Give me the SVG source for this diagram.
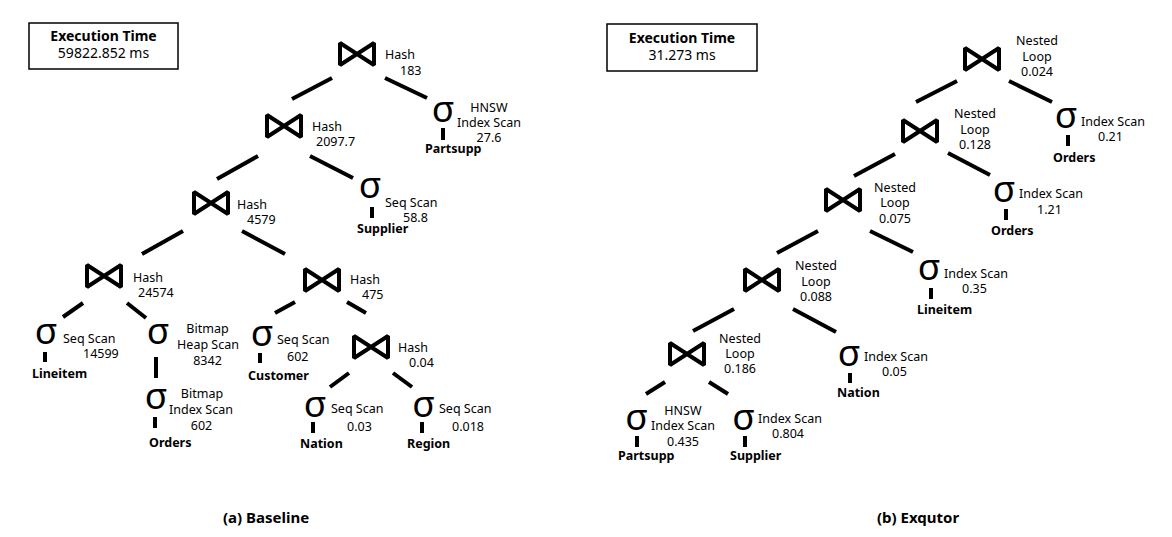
<svg xmlns="http://www.w3.org/2000/svg" xmlns:xlink="http://www.w3.org/1999/xlink" width="1172" height="537" viewBox="0 0 1172 537">
<style>
text{font-family:"Noto Sans","Open Sans","Liberation Sans",sans-serif;fill:#000}
.lbl{font-size:12.5px}
.mid{text-anchor:middle}
.name{font-size:12.5px;font-weight:bold}
.sig{font-size:37px;text-anchor:middle}
.ttl{font-size:14px;font-weight:bold;text-anchor:middle}
.val{font-size:14px;text-anchor:middle}
.cap{font-size:15px;font-weight:bold}
.edge{stroke:#000;stroke-width:4;fill:none}
.bar{fill:#000}
.bt{fill:none;stroke:#000;stroke-width:4;stroke-linejoin:miter;stroke-miterlimit:2}
.box{fill:#fff;stroke:#000;stroke-width:1.5}
</style>
<defs>
<path id="bowtie" d="M2,2 L36,24 L36,2 L2,24 Z" class="bt"/>
</defs>
<rect width="1172" height="537" fill="#fff"/>

<!-- connectors -->
<g id="connectors">
<line class="edge" x1="292" y1="99" x2="332" y2="78"/>
<line class="edge" x1="385" y1="78" x2="427" y2="98"/>
<line class="edge" x1="217" y1="179" x2="258" y2="156"/>
<line class="edge" x1="310" y1="156" x2="353" y2="178"/>
<line class="edge" x1="142" y1="254" x2="183" y2="231"/>
<line class="edge" x1="242" y1="231" x2="285" y2="254"/>
<line class="edge" x1="63" y1="317" x2="83" y2="303"/>
<line class="edge" x1="127" y1="303" x2="146" y2="318"/>
<line class="edge" x1="156" y1="357" x2="156" y2="378"/>
<line class="edge" x1="275" y1="313" x2="295" y2="302"/>
<line class="edge" x1="347" y1="302" x2="366" y2="313"/>
<line class="edge" x1="330" y1="387" x2="349" y2="373"/>
<line class="edge" x1="393" y1="373" x2="412" y2="387"/>

<line class="edge" x1="916" y1="102" x2="957" y2="81"/>
<line class="edge" x1="1009" y1="81" x2="1052" y2="102"/>
<line class="edge" x1="854" y1="176" x2="895" y2="154"/>
<line class="edge" x1="948" y1="153" x2="990" y2="175"/>
<line class="edge" x1="777" y1="253" x2="818" y2="231"/>
<line class="edge" x1="870" y1="231" x2="913" y2="252"/>
<line class="edge" x1="693" y1="331" x2="734" y2="309"/>
<line class="edge" x1="793" y1="309" x2="836" y2="332"/>
<line class="edge" x1="646" y1="394" x2="665" y2="382"/>
<line class="edge" x1="709" y1="382" x2="728" y2="394"/>
</g>

<!-- execution time boxes -->
<g id="time-baseline">
<rect class="box" x="29" y="23" width="149" height="46"/>
<text class="ttl" x="103.5" y="41">Execution Time</text>
<text class="val" x="103.5" y="58">59822.852 ms</text>
</g>
<g id="time-exqutor">
<rect class="box" x="607" y="24" width="150" height="47"/>
<text class="ttl" x="682" y="43">Execution Time</text>
<text class="val" x="682" y="60">31.273 ms</text>
</g>

<!-- Baseline joins -->
<g id="a-j1"><use xlink:href="#bowtie" x="338" y="41"/><text class="lbl" x="385" y="59">Hash</text><text class="lbl" x="400" y="75">183</text></g>
<g id="a-j2"><use xlink:href="#bowtie" x="265" y="113"/><text class="lbl" x="312" y="131">Hash</text><text class="lbl" x="316" y="146">2097.7</text></g>
<g id="a-j3"><use xlink:href="#bowtie" x="192" y="190"/><text class="lbl" x="237" y="209">Hash</text><text class="lbl" x="247" y="224">4579</text></g>
<g id="a-j4"><use xlink:href="#bowtie" x="85" y="263"/><text class="lbl" x="133" y="282">Hash</text><text class="lbl" x="138" y="297">24574</text></g>
<g id="a-j5"><use xlink:href="#bowtie" x="303" y="267"/><text class="lbl" x="350" y="284">Hash</text><text class="lbl" x="362" y="299">475</text></g>
<g id="a-j6"><use xlink:href="#bowtie" x="352" y="334"/><text class="lbl" x="398" y="352">Hash</text><text class="lbl" x="409" y="367">0.04</text></g>

<!-- Baseline scans -->
<g id="a-partsupp"><text class="sig" x="443" y="122">σ</text><rect class="bar" x="441" y="128" width="4" height="12"/><text class="name" x="425" y="153">Partsupp</text>
<text class="lbl mid" x="489" y="112">HNSW</text><text class="lbl mid" x="489" y="127">Index Scan</text><text class="lbl mid" x="489" y="142">27.6</text></g>
<g id="a-supplier"><text class="sig" x="370" y="198">σ</text><rect class="bar" x="370" y="207" width="4" height="11"/><text class="name" x="357" y="233">Supplier</text>
<text class="lbl" x="385" y="207">Seq Scan</text><text class="lbl" x="403" y="222">58.8</text></g>
<g id="a-lineitem"><text class="sig" x="46" y="344">σ</text><rect class="bar" x="43" y="352" width="4" height="10"/><text class="name" x="32" y="378">Lineitem</text>
<text class="lbl" x="63" y="343">Seq Scan</text><text class="lbl" x="83" y="358">14599</text></g>
<g id="a-bitmap-heap"><text class="sig" x="158" y="344">σ</text>
<text class="lbl mid" x="207.5" y="333">Bitmap</text><text class="lbl mid" x="208" y="349">Heap Scan</text><text class="lbl mid" x="207.5" y="365">8342</text></g>
<g id="a-orders"><text class="sig" x="156" y="409">σ</text><rect class="bar" x="153" y="417" width="4" height="11"/><text class="name" x="149" y="447">Orders</text>
<text class="lbl mid" x="202" y="398">Bitmap</text><text class="lbl mid" x="201" y="414">Index Scan</text><text class="lbl mid" x="201.5" y="430">602</text></g>
<g id="a-customer"><text class="sig" x="262" y="346">σ</text><rect class="bar" x="258" y="353" width="4" height="10"/><text class="name" x="248" y="380">Customer</text>
<text class="lbl" x="277" y="344">Seq Scan</text><text class="lbl" x="287" y="361">602</text></g>
<g id="a-nation"><text class="sig" x="315" y="417">σ</text><rect class="bar" x="311" y="422" width="4" height="11"/><text class="name" x="300" y="448">Nation</text>
<text class="lbl" x="331" y="413">Seq Scan</text><text class="lbl" x="347" y="431">0.03</text></g>
<g id="a-region"><text class="sig" x="423.5" y="417">σ</text><rect class="bar" x="420" y="422" width="4" height="11"/><text class="name" x="407" y="448">Region</text>
<text class="lbl" x="439" y="413">Seq Scan</text><text class="lbl" x="452" y="431">0.018</text></g>

<!-- Exqutor joins -->
<g id="b-j1"><use xlink:href="#bowtie" x="963" y="46"/><text class="lbl mid" x="1037" y="45">Nested</text><text class="lbl mid" x="1037" y="61">Loop</text><text class="lbl mid" x="1037" y="76">0.024</text></g>
<g id="b-j2"><use xlink:href="#bowtie" x="901" y="118"/><text class="lbl mid" x="975" y="118">Nested</text><text class="lbl mid" x="975" y="134">Loop</text><text class="lbl mid" x="975" y="149">0.128</text></g>
<g id="b-j3"><use xlink:href="#bowtie" x="824" y="187"/><text class="lbl mid" x="895" y="192">Nested</text><text class="lbl mid" x="895" y="207">Loop</text><text class="lbl mid" x="895" y="223">0.075</text></g>
<g id="b-j4"><use xlink:href="#bowtie" x="743" y="267"/><text class="lbl mid" x="816" y="270">Nested</text><text class="lbl mid" x="816" y="286">Loop</text><text class="lbl mid" x="816" y="301">0.088</text></g>
<g id="b-j5"><use xlink:href="#bowtie" x="668" y="341"/><text class="lbl mid" x="740" y="343">Nested</text><text class="lbl mid" x="740" y="358">Loop</text><text class="lbl mid" x="740" y="373">0.186</text></g>

<!-- Exqutor scans -->
<g id="b-orders1"><text class="sig" x="1066" y="128">σ</text><rect class="bar" x="1066" y="135" width="4" height="11"/><text class="name" x="1053" y="162">Orders</text>
<text class="lbl" x="1081" y="126">Index Scan</text><text class="lbl" x="1098" y="141">0.21</text></g>
<g id="b-orders2"><text class="sig" x="1004" y="202">σ</text><rect class="bar" x="1004" y="209" width="4" height="11"/><text class="name" x="991" y="235">Orders</text>
<text class="lbl" x="1019" y="198">Index Scan</text><text class="lbl" x="1037" y="214">1.21</text></g>
<g id="b-lineitem"><text class="sig" x="929" y="280">σ</text><rect class="bar" x="929" y="288" width="4" height="11"/><text class="name" x="917" y="314">Lineitem</text>
<text class="lbl" x="944" y="278">Index Scan</text><text class="lbl" x="962" y="293">0.35</text></g>
<g id="b-nation"><text class="sig" x="849" y="366">σ</text><rect class="bar" x="848" y="373" width="4" height="10"/><text class="name" x="837" y="397">Nation</text>
<text class="lbl" x="864" y="361">Index Scan</text><text class="lbl" x="882" y="376">0.05</text></g>
<g id="b-partsupp"><text class="sig" x="636.5" y="430">σ</text><rect class="bar" x="635" y="436" width="4" height="11"/><text class="name" x="618" y="460">Partsupp</text>
<text class="lbl mid" x="683" y="415">HNSW</text><text class="lbl mid" x="683" y="430">Index Scan</text><text class="lbl mid" x="683" y="446">0.435</text></g>
<g id="b-supplier"><text class="sig" x="743.5" y="430">σ</text><rect class="bar" x="743" y="436" width="4" height="11"/><text class="name" x="730" y="460">Supplier</text>
<text class="lbl" x="758" y="423">Index Scan</text><text class="lbl" x="772" y="438">0.804</text></g>

<!-- captions -->
<g id="captions">
<text class="cap" x="223" y="523">(a)  Baseline</text>
<text class="cap" x="877" y="523">(b)  Exqutor</text>
</g>
</svg>
